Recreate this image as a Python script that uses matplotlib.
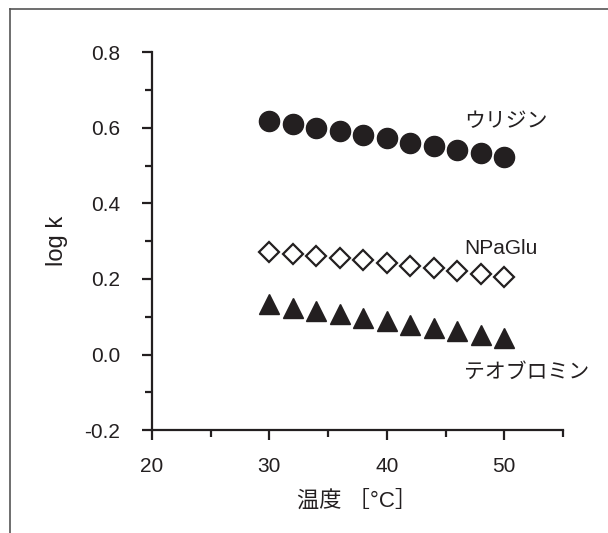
import matplotlib
matplotlib.use("Agg")
import matplotlib.pyplot as plt
from matplotlib.lines import Line2D
from matplotlib.ticker import MultipleLocator

plt.rcParams['font.family'] = ['Liberation Sans', 'Noto Sans CJK JP', 'DejaVu Sans']

temps = [30, 32, 34, 36, 38, 40, 42, 44, 46, 48, 50]
uridine = [0.617, 0.609, 0.600, 0.591, 0.582, 0.572, 0.561, 0.551, 0.542, 0.534, 0.524]
npaglu = [0.272, 0.267, 0.261, 0.255, 0.249, 0.242, 0.235, 0.228, 0.221, 0.213, 0.205]
theobromine = [0.133, 0.124, 0.115, 0.106, 0.097, 0.088, 0.079, 0.070, 0.061, 0.052, 0.044]

names = ['ウリジン', 'NPaGlu', 'テオブロミン']
label_pos = [(46.6, 0.618), (46.6, 0.28), (46.6, -0.045)]

fig = plt.figure(figsize=(6.08, 5.33), dpi=100)
ax = fig.add_axes([0.25, 0.193, 0.676, 0.709])

ink = '#231f20'
ax.plot(temps, uridine, 'o', ms=14.5, color=ink, ls='none')
ax.plot(temps, npaglu, 'D', ms=10, mfc='white', mec=ink, mew=1.6, ls='none')
ax.plot(temps, theobromine, '^', ms=14.5, color=ink, ls='none')

for name, (x, y) in zip(names, label_pos):
    fam = ['Liberation Sans'] if name == 'NPaGlu' else ['Noto Sans CJK JP', 'Liberation Sans']
    ax.text(x, y, name, fontsize=15, color=ink, ha='left', va='center', family=fam)

ax.set_xlim(20, 55)
ax.set_ylim(-0.2, 0.8)
ax.xaxis.set_minor_locator(MultipleLocator(5))
ax.yaxis.set_minor_locator(MultipleLocator(0.1))
ax.set_xticks([20, 30, 40, 50])
ax.set_xticklabels(['20', '30', '40', '50'])
ax.set_yticks([-0.2, 0.0, 0.2, 0.4, 0.6, 0.8])
ax.set_yticklabels(['-0.2', '0.0', '0.2', '0.4', '0.6', '0.8'])

for s in ['top', 'right']:
    ax.spines[s].set_visible(False)
for s in ['left', 'bottom']:
    ax.spines[s].set_linewidth(1.6)
    ax.spines[s].set_color(ink)

ax.tick_params(which='major', direction='out', length=7, width=1.6, color=ink,
               labelsize=15, labelcolor=ink)
ax.tick_params(which='minor', direction='out', length=5, width=1.6, color=ink)
ax.tick_params(axis='x', which='major', pad=12)
ax.tick_params(axis='y', which='major', pad=16)

ax.set_xlabel('温度 ［°C］', fontsize=16, color=ink, labelpad=11,
              family=['Liberation Sans', 'Noto Sans CJK JP'])
ax.set_ylabel('log k', fontsize=17, color=ink, labelpad=12)

# frame around the figure (only left and top edges visible)
fig.add_artist(Line2D([10 / 608, 10 / 608], [0, 1 - 9 / 533], transform=fig.transFigure,
                      color='#555555', lw=1.2))
fig.add_artist(Line2D([10 / 608, 1], [1 - 9 / 533, 1 - 9 / 533], transform=fig.transFigure,
                      color='#555555', lw=1.2))

fig.savefig('out.png', dpi=100)
